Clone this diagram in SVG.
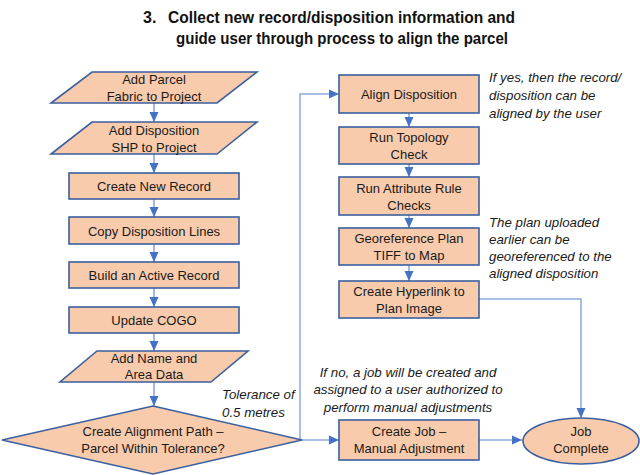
<svg xmlns="http://www.w3.org/2000/svg" width="640" height="475" viewBox="0 0 640 475">
<defs>
<style>
.node{fill:#F8CBAD;stroke:#3B5F9E;stroke-width:1.6}
.t{font-family:"Liberation Sans",Arial,sans-serif;font-size:13px;fill:#1a1a1a;text-anchor:middle}
.note{font-family:"Liberation Sans",Arial,sans-serif;font-size:13.3px;font-style:italic;fill:#1a1a1a}
.title{font-family:"Liberation Sans",Arial,sans-serif;font-size:16px;font-weight:bold;fill:#111}
.c{fill:none;stroke:#8FAADC;stroke-width:1.5}
.cs{fill:none;stroke:#6F93D6;stroke-width:1.3}
</style>
<marker id="ah" markerUnits="userSpaceOnUse" markerWidth="10" markerHeight="10" viewBox="0 0 10 10" refX="10" refY="5" orient="auto">
<path d="M0,0.5 L10,5 L0,9.5 z" fill="#4472C4"/>
</marker>
</defs>
<text class="title" y="23"><tspan x="143">3.</tspan><tspan x="168" textLength="347" lengthAdjust="spacingAndGlyphs">Collect new record/disposition information and</tspan></text>
<text class="title" x="176" y="44" textLength="332" lengthAdjust="spacingAndGlyphs">guide user through process to align the parcel</text>

<g id="connectors">
<path class="cs" d="M154 103 V122" marker-end="url(#ah)"/>
<path class="cs" d="M154 154 V173" marker-end="url(#ah)"/>
<path class="cs" d="M154 199 V217" marker-end="url(#ah)"/>
<path class="cs" d="M154 244 V262" marker-end="url(#ah)"/>
<path class="cs" d="M154 288 V307" marker-end="url(#ah)"/>
<path class="cs" d="M154 333 V351" marker-end="url(#ah)"/>
<path class="cs" d="M154 382 V406" marker-end="url(#ah)"/>
<path class="cs" d="M409 113 V127" marker-end="url(#ah)"/>
<path class="cs" d="M409 164 V177" marker-end="url(#ah)"/>
<path class="cs" d="M409 215 V228" marker-end="url(#ah)"/>
<path class="cs" d="M409 265 V281" marker-end="url(#ah)"/>
<path class="c" d="M302 440 H300 V94 H339" marker-end="url(#ah)"/>
<path class="c" d="M302 440 H339" marker-end="url(#ah)"/>
<path class="c" d="M479 440 H522" marker-end="url(#ah)"/>
<path class="c" d="M479 299 H581 V418" marker-end="url(#ah)"/>
</g>

<g id="add-parcel">
<polygon class="node" points="92,72 257,72 217,103 51,103"/>
<text class="t" x="154" y="84">Add Parcel</text>
<text class="t" x="154" y="101">Fabric to Project</text>
</g>
<g id="add-disposition">
<polygon class="node" points="92,122 257,122 217,154 51,154"/>
<text class="t" x="154" y="135">Add Disposition</text>
<text class="t" x="154" y="152">SHP to Project</text>
</g>
<g id="create-new-record">
<rect class="node" x="69" y="173" width="170" height="26"/>
<text class="t" x="154" y="191">Create New Record</text>
</g>
<g id="copy-lines">
<rect class="node" x="69" y="217" width="170" height="27"/>
<text class="t" x="154" y="236">Copy Disposition Lines</text>
</g>
<g id="build-record">
<rect class="node" x="69" y="262" width="170" height="26"/>
<text class="t" x="154" y="280">Build an Active Record</text>
</g>
<g id="update-cogo">
<rect class="node" x="69" y="307" width="170" height="26"/>
<text class="t" x="154" y="325">Update COGO</text>
</g>
<g id="add-name">
<polygon class="node" points="97,351 248,351 211,382 60,382"/>
<text class="t" x="154" y="363">Add Name and</text>
<text class="t" x="154" y="379">Area Data</text>
</g>
<g id="alignment-decision">
<polygon class="node" points="153,406 302,440 153,474 2,440"/>
<text class="t" x="153" y="436">Create Alignment Path –</text>
<text class="t" x="153" y="453">Parcel Within Tolerance?</text>
</g>

<g id="align-disposition">
<rect class="node" x="339" y="75" width="140" height="38"/>
<text class="t" x="409" y="99">Align Disposition</text>
</g>
<g id="run-topology">
<rect class="node" x="339" y="127" width="140" height="37"/>
<text class="t" x="409" y="142">Run Topology</text>
<text class="t" x="409" y="159">Check</text>
</g>
<g id="run-attribute">
<rect class="node" x="339" y="177" width="140" height="38"/>
<text class="t" x="409" y="193">Run Attribute Rule</text>
<text class="t" x="409" y="210">Checks</text>
</g>
<g id="georeference">
<rect class="node" x="339" y="228" width="140" height="37"/>
<text class="t" x="409" y="243">Georeference Plan</text>
<text class="t" x="409" y="260">TIFF to Map</text>
</g>
<g id="hyperlink">
<rect class="node" x="339" y="281" width="140" height="37"/>
<text class="t" x="409" y="296">Create Hyperlink to</text>
<text class="t" x="409" y="313">Plan Image</text>
</g>
<g id="create-job">
<rect class="node" x="339" y="420" width="140" height="40"/>
<text class="t" x="409" y="436">Create Job –</text>
<text class="t" x="409" y="453">Manual Adjustment</text>
</g>
<g id="job-complete">
<ellipse class="node" cx="581" cy="441" rx="58" ry="23"/>
<text class="t" x="581" y="436">Job</text>
<text class="t" x="581" y="453">Complete</text>
</g>

<g id="notes">
<text class="note" x="489" y="82">If yes, then the record/</text>
<text class="note" x="489" y="100">disposition can be</text>
<text class="note" x="489" y="118">aligned by the user</text>
<text class="note" x="489" y="227">The plan uploaded</text>
<text class="note" x="489" y="244">earlier can be</text>
<text class="note" x="489" y="261">georeferenced to the</text>
<text class="note" x="489" y="278">aligned disposition</text>
<text class="note" x="408" y="377" text-anchor="middle">If no, a job will be created and</text>
<text class="note" x="408" y="394" text-anchor="middle">assigned to a user authorized to</text>
<text class="note" x="408" y="412" text-anchor="middle">perform manual adjustments</text>
<text class="note" x="222" y="399">Tolerance of</text>
<text class="note" x="222" y="417">0.5 metres</text>
</g>
</svg>
